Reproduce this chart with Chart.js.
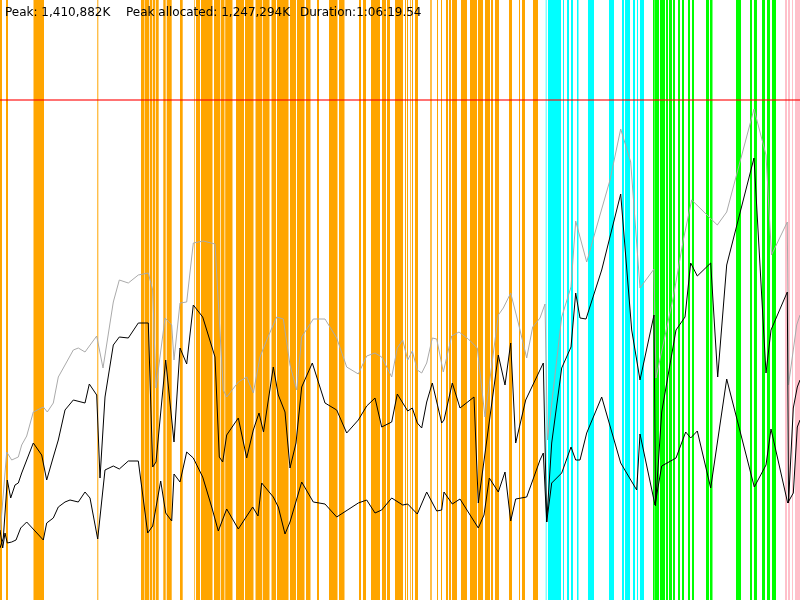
<!DOCTYPE html>
<html>
<head>
<meta charset="utf-8">
<script src="https://cdn.jsdelivr.net/npm/chart.js@4.4.1/dist/chart.umd.min.js"></script>
<style>
html,body{margin:0;padding:0;background:#fff;}
#wrap{position:relative;width:800px;height:600px;overflow:hidden;}
canvas{display:block;}
.lbl{position:absolute;top:5px;font-family:"DejaVu Sans",sans-serif;font-size:12px;line-height:14px;color:#000;white-space:nowrap;}
</style>
</head>
<body>
<div id="wrap">
<canvas id="c" width="800" height="600"></canvas>
<span class="lbl" style="left:5px">Peak: 1,410,882K</span>
<span class="lbl" style="left:126px">Peak allocated: 1,247,294K</span>
<span class="lbl" style="left:300px">Duration:1:06:19.54</span>
</div>
<script>
// time axis: 0..800 (display time units), value axis: heap height units (0..600)
const timeRange = [0, 800];
const valueRange = [0, 600];
const heapLimit = 500;

// event intervals [start, end] on the time axis
const orangeSpans = [[0,2],[6,8],[33.5,44],[97.3,98.3],[141,144.5],[145,149.3],[150,152.3],[153,155.3],[156,158.7],
  [163.3,165.7],[166.7,171.7],[180,182.7],[194.3,195],[196,200],
  [201,212.5],[214,220],[220.7,224.5],[225.2,232.5],[236,244],[245,253.5],[255.5,262],[262.7,269.5],
  [271.5,276],[277,288.5],[290,296],[297,304.5],[306,310.5],[317,319],[329,337.5],[339,344.5],
  [359,361],[363,366],[371,380],[382,386],[387,390],[395,400],
  [400,403],[405,406],[407,408],[410.3,411],[412,413],[415,418],[430.3,431.7],[437,438],[441,442],[446,448],
  [449,451],[452,457],[461,467],[470,477],[478,483],[485,490],[491,493],[495,499],[509,512],[519,520],[522,525],[533,538]];
const cyanSpans = [[545.5,546.5],[548,561],[563,564],[567,569],[571,573],[577,578.5],[588,594],[609,614],
  [622,624],[625,630],[633,635],[637,638],[640,644]];
const greenSpans = [[653,654],[654.3,659],[660,665],[666,668],[669,672],[673,675],[678,680],[682,684],[688,690],
  [692,694],[706,709],[710,712.5],[736,741],[750,752],[754,757],[762,765],[767,770],[772,776]];
const pinkSpans = [[785,787],[788,790],[792,793],[795,800]];

// [time, value] samples
const committed = [[0,65],[6.7,148],[11.7,140],[18.3,143],[21.7,155],[26.7,164],[33.3,188],[43.3,193],[47.3,188],
  [53.3,197],[58.3,223],[65,235],[73.3,250],[78.3,252],[85,248],[96.7,264],[103,232],[113.3,298],[119.3,320],
  [128.3,317],[138.3,325],[148.3,327],[152.7,310],[156,212],[165,282],[171.7,275],[174,240],[180,297],[186.7,298],
  [193.3,357],[203.3,359],[215,356],[223.3,210],[226.7,203],[238.3,218],[246.7,223],[253.3,207],[260,243],
  [266.7,260],[276.7,283],[283.3,281],[290,235],[296.7,210],[301.7,263],[313.3,281],[325,281],[336.7,262],
  [346.7,233],[358.3,226],[366.7,244],[375,247],[381.7,243],[391.7,223],[397.3,252],[402.7,260],[407.7,240],
  [412.3,249],[417.3,230],[421.7,227],[426.7,237],[432.3,262],[436.7,261],[443.3,228],[451.7,264],[459,268],
  [468.3,261],[477.3,252],[485,183],[498.3,285],[503.3,292],[510.7,307],[518.3,277],[526.7,242],[532.7,273],
  [540,282],[545,296],[547.5,160],[561.7,283],[571,313],[575.7,379],[586.7,338],[600,385],[610,420],[620.7,471],
  [630.7,438],[640,312],[654,331],[656,222],[673.3,303],[683.3,360],[691.7,400],[717.3,375],[726.7,388],
  [754,491],[766,445],[771.5,345],[787.3,378],[788.5,215],[796.7,275],[800,285]];
const used = [[0,52],[3.3,62],[7.3,120],[10.7,102],[15,115],[18.3,117],[21.7,127],[33.3,157],[41.7,145],
  [46.7,120],[53.3,143],[58.3,160],[65,190],[73.3,200],[85,197],[89.3,216],[96.7,205],[100,122],[105,203],
  [113.3,255],[119.3,263],[128.3,262],[138.3,277],[148.3,277],[152.7,133],[156,138],[165.7,240],[174,158],
  [180,252],[186.7,236],[193.3,295],[202.7,283],[215,243],[219.3,143],[222.7,138],[226.7,165],[238.3,182],
  [246.7,142],[253.3,170],[259,187],[263.5,168],[273.3,233],[278.3,205],[285,188],[290,132],[296,157],
  [301.7,213],[312.3,237],[325,197],[336.7,190],[346.7,167],[358.3,180],[366.7,194],[375,202],[381.7,173],
  [391.7,178],[397.3,206],[407.7,189],[412.3,192],[417.3,177],[421.7,172],[426.7,198],[432.3,217],[441.7,177],
  [444,180],[452.3,217],[460,192],[474,203],[478.3,97],[498.3,245],[505,215],[510.7,257],[515.7,157],
  [525.7,200],[543.3,237],[546.7,78],[551.7,157],[561.7,232],[571,253],[575.7,307],[580,282],[586,281],
  [601.7,330],[620.7,406],[631.7,270],[640,220],[654,285],[655.5,94],[661.7,188],[676,270],[685,283],
  [690.7,337],[697.3,324],[710.7,337],[717.7,223],[726.7,335],[754,442],[766,227],[771,270],[787.3,308],
  [788.5,97],[793.3,192],[797.3,213],[800,220]];
const live = [[0,70],[2.7,52],[5,67],[7.3,57],[11.7,58],[16,60],[20.7,72],[26.7,78],[43.3,60],[46.7,77],
  [53.3,82],[58.3,93],[65,98],[70,100],[78.3,98],[85,108],[90,102],[97.7,61],[105,130],[113.3,134],[119.3,131],
  [128.3,139],[138.3,139],[147.7,67],[152.7,74],[160.7,119],[165.7,87],[171.7,79],[174,126],[180,118],
  [186.7,148],[193.3,142],[202.7,123],[211.7,93],[218.3,69],[226.7,91],[238.3,71],[252.7,93],[258,84],
  [261.7,117],[273.3,103],[278.3,93],[285,66],[290,78],[301.7,118],[313.3,98],[325,96],[336.7,83],[358.3,97],
  [366.7,100],[375,87],[381.7,90],[391.7,102],[402.7,95],[407.7,96],[417.3,86],[426.7,108],[436.7,89],
  [441.7,90],[444,108],[452.3,96],[460,101],[478.3,72],[484,85],[489.3,122],[498.3,108],[505,128],[510.7,79],
  [515.7,101],[526.7,103],[540,140],[543.3,147],[546.7,78],[551.7,117],[561.7,127],[571,153],[575.7,140],
  [580,140],[586.7,167],[601.7,203],[620.7,137],[636.7,110],[640,166],[655,95],[661.7,134],[676,142],
  [685.7,168],[690.7,162],[697.3,169],[710.7,112],[726.7,221],[754.3,113],[766,135],[771,171],[787.7,97],
  [793.3,107],[797.3,173],[800,180]];

function spanPoints(spans){
  const pts = [];
  spans.forEach(([a,b]) => { pts.push({x:a,y:1}); pts.push({x:b,y:0}); });
  return pts;
}
function seriesPoints(s){ return s.map(([x,y]) => ({x, y})); }
function stripeDataset(spans, color){
  return {data: spanPoints(spans), yAxisID:'band', stepped:true, fill:'origin', backgroundColor:color,
    borderColor:'rgba(0,0,0,0)', borderWidth:0, pointRadius:0, order:10};
}
function lineDataset(s, color, order){
  return {data: seriesPoints(s), yAxisID:'y', borderColor:color, borderWidth:1, pointRadius:0, tension:0,
    fill:false, order};
}

new Chart(document.getElementById('c'), {
  type: 'line',
  data: {
    datasets: [
      lineDataset(live, '#000000', 1),
      lineDataset(used, '#000000', 1),
      lineDataset(committed, '#aaaaaa', 2),
      {data: [{x:timeRange[0], y:heapLimit}, {x:timeRange[1], y:heapLimit}], yAxisID:'y',
        borderColor:'rgba(255,0,0,0.55)', borderWidth:2, pointRadius:0, fill:false, order:3},
      stripeDataset(orangeSpans, '#ffa500'),
      stripeDataset(cyanSpans, '#00ffff'),
      stripeDataset(greenSpans, '#00ff00'),
      stripeDataset(pinkSpans, '#ffc0cb')
    ]
  },
  options: {
    responsive: false,
    devicePixelRatio: 1,
    animation: false,
    events: [],
    layout: {padding: 0},
    scales: {
      x: {type:'linear', min:timeRange[0], max:timeRange[1], display:false},
      y: {type:'linear', min:valueRange[0], max:valueRange[1], display:false},
      band: {type:'linear', min:0, max:1, display:false}
    },
    plugins: {legend:{display:false}, tooltip:{enabled:false}, title:{display:false}}
  }
});
</script>
</body>
</html>
